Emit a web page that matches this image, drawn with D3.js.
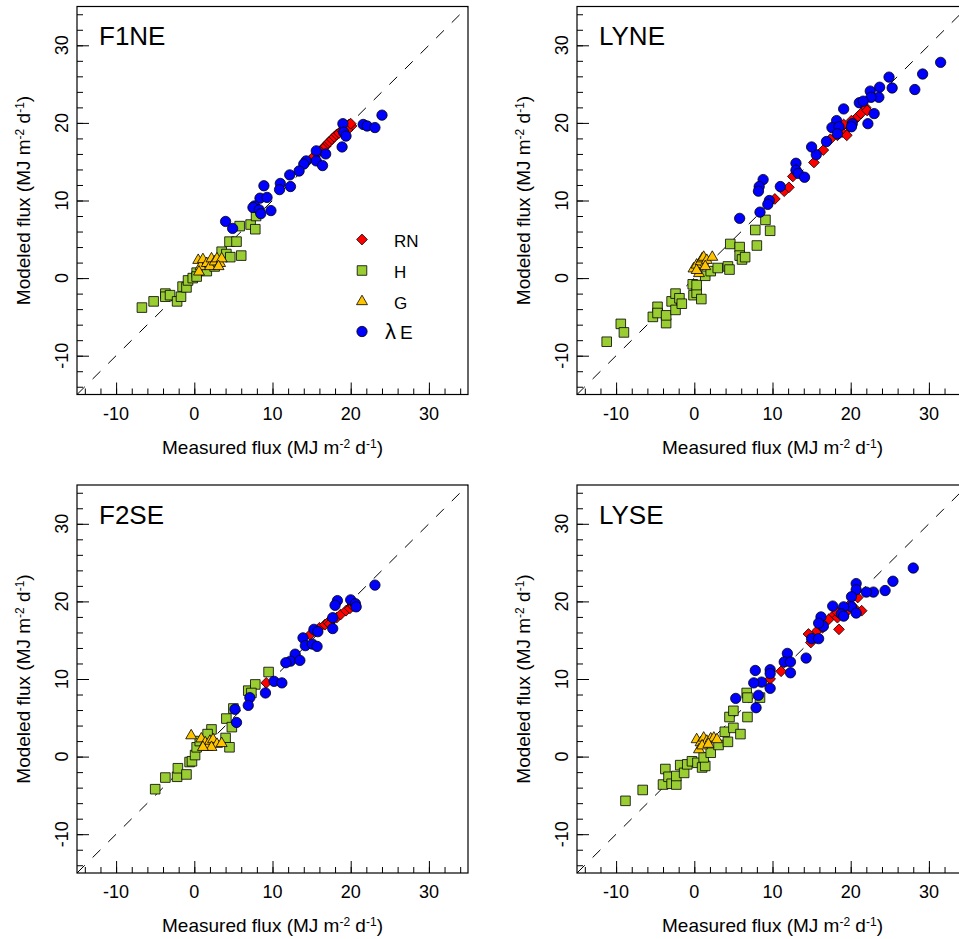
<!DOCTYPE html>
<html>
<head>
<meta charset="utf-8">
<script src="https://cdn.jsdelivr.net/npm/d3@7"></script>
<style>
  body { margin: 0; background: #fff; }
  text { font-family: "Liberation Sans", Arial, sans-serif; fill: #000; }
</style>
</head>
<body>
<script>
// axis limits and tick labels
var domain = [-15, 35];
var majorTicks = [-10, 0, 10, 20, 30];
var minorTicks = d3.range(-14, 35, 2);
var seriesNames = ["RN", "H", "G", "E"];

// F1NE
var f1neRN = [[16.0,16.3],[16.5,16.8],[16.8,17.0],[17.1,17.4],[17.3,17.6],[17.6,17.9],[17.9,18.2],[18.2,18.5],[18.5,18.7],[18.9,19.0],[19.2,19.3],[19.5,19.6],[19.8,19.8],[20.1,19.6],[19.6,19.1],[20.0,19.9],[15.3,15.7]];
var f1neH = [[-6.7,-3.8],[-5.2,-3.0],[-3.7,-2.0],[-3.7,-2.4],[-3.1,-2.2],[-2.2,-3.0],[-1.7,-2.4],[-1.5,-1.1],[-1.0,-1.2],[-0.8,-0.3],[-0.2,0.0],[0.3,0.7],[0.3,0.2],[1.6,0.9],[2.6,1.5],[3.5,3.4],[4.1,3.1],[4.6,2.7],[4.5,4.7],[5.4,4.7],[6.0,2.9],[5.8,6.7],[7.2,6.9],[7.8,6.3],[7.9,8.0]];
var f1neG = [[0.5,2.3],[0.8,1.5],[1.1,2.4],[1.6,1.9],[2.0,1.5],[2.2,2.5],[2.6,2.1],[2.9,2.5],[3.3,1.9],[3.5,2.5],[3.1,1.5],[0.6,0.8]];
var f1neLE = [[24.0,21.0],[21.6,19.8],[22.1,19.6],[23.1,19.4],[19.0,19.9],[19.1,18.8],[19.4,18.3],[18.9,16.9],[16.8,16.0],[15.6,16.4],[15.6,15.1],[16.4,14.5],[14.3,15.1],[14.0,14.7],[13.4,13.8],[12.2,13.3],[11.0,12.2],[10.9,11.4],[12.3,11.8],[8.9,11.9],[8.4,10.3],[9.3,10.4],[7.7,9.3],[7.5,9.1],[8.3,8.8],[8.5,8.3],[9.8,8.7],[4.0,7.3],[4.9,6.4]];

// LYNE
var lyneRN = [[10.3,10.2],[11.5,11.2],[12.1,11.7],[12.6,13.1],[15.3,14.9],[16.5,16.5],[17.4,17.9],[18.3,18.4],[18.9,18.8],[19.5,18.4],[19.8,19.5],[20.4,20.3],[20.9,20.8],[21.3,21.2],[21.9,22.0],[22.1,21.6],[19.1,19.8],[20.1,20.3]];
var lyneH = [[-11.2,-8.2],[-9.4,-5.9],[-9.0,-7.0],[-5.3,-5.0],[-4.7,-3.7],[-4.7,-4.5],[-3.6,-5.8],[-3.6,-4.8],[-2.9,-3.0],[-2.4,-2.0],[-2.4,-4.1],[-1.9,-2.6],[-1.6,-3.3],[-0.2,-0.8],[-0.1,-2.2],[0.3,-1.9],[0.9,-2.7],[0.3,-0.9],[1.4,0.3],[2.1,0.9],[3.0,1.3],[4.3,1.5],[4.5,1.1],[4.6,4.4],[5.8,4.0],[5.8,2.9],[6.1,2.4],[6.5,2.7],[7.8,6.2],[9.1,7.5],[9.7,6.1],[8.0,4.2]];
var lyneG = [[-0.1,1.2],[0.3,1.7],[0.8,2.1],[1.0,2.5],[1.2,2.7],[1.6,2.3],[2.3,2.7],[0.6,0.6],[0.3,1.0],[1.4,1.5]];
var lyneLE = [[31.5,27.8],[29.2,26.3],[28.2,24.3],[24.9,25.9],[25.3,24.5],[23.7,24.6],[23.6,23.3],[22.5,24.1],[22.6,23.3],[21.1,22.6],[21.6,22.8],[23.0,21.2],[22.2,19.9],[19.1,21.8],[18.2,20.3],[17.6,19.4],[18.5,19.5],[18.3,18.6],[20.2,19.9],[20.1,19.5],[16.9,17.6],[15.6,15.9],[15.0,16.9],[13.0,14.8],[13.0,13.9],[13.3,13.5],[14.1,13.0],[11.0,11.8],[8.8,12.7],[8.3,11.8],[8.2,11.2],[9.6,10.0],[9.4,9.5],[8.4,8.5],[5.8,7.7]];

// F2SE
var f2seRN = [[9.2,9.5],[14.8,15.7],[15.4,16.2],[16.0,16.6],[16.7,17.0],[17.1,17.3],[17.7,17.7],[18.2,17.9],[18.7,18.3],[19.4,18.8],[19.9,19.1],[20.3,19.4],[17.3,17.1]];
var f2seH = [[-5.0,-4.2],[-3.7,-2.7],[-2.2,-2.6],[-2.1,-1.5],[-1.0,-2.3],[-0.6,-0.7],[-0.3,-0.6],[0.1,0.2],[0.3,1.2],[0.7,2.0],[2.2,3.5],[1.7,2.9],[4.0,2.4],[4.5,1.2],[4.1,4.9],[4.8,3.8],[5.0,6.2],[6.9,8.5],[7.8,9.3],[7.3,8.2],[9.5,10.9]];
var f2seG = [[-0.4,2.7],[0.9,2.3],[1.4,1.8],[1.7,1.2],[2.0,2.0],[2.4,2.2],[2.9,1.6],[3.5,1.7],[2.2,1.2],[1.1,1.2]];
var f2seLE = [[23.1,22.1],[18.3,20.1],[18.0,19.5],[20.0,20.2],[20.6,19.7],[20.7,19.3],[17.7,17.9],[17.7,16.5],[15.3,16.4],[15.8,16.1],[13.9,15.3],[14.2,14.3],[15.1,14.5],[15.7,14.2],[12.9,13.2],[12.3,12.3],[11.7,12.1],[13.5,12.4],[10.2,9.7],[11.2,9.5],[9.1,8.2],[7.1,7.6],[6.9,6.6],[5.2,6.1],[5.4,4.4]];

// LYSE
var lyseRN = [[9.7,10.0],[11.1,11.0],[14.6,15.8],[14.9,14.7],[15.7,16.2],[16.4,16.6],[17.2,17.7],[17.9,18.3],[18.3,17.9],[18.5,16.4],[19.4,18.6],[19.8,19.5],[20.9,20.5],[21.4,18.8],[20.4,19.2],[18.3,18.6]];
var lyseH = [[-8.8,-5.7],[-6.6,-4.3],[-4.0,-3.6],[-3.7,-1.6],[-3.3,-2.6],[-2.9,-3.5],[-2.3,-3.6],[-2.3,-2.5],[-1.8,-1.1],[-1.3,-2.1],[-0.9,-1.0],[-0.3,-0.6],[0.4,-0.8],[1.0,-1.4],[1.4,-1.2],[1.2,-0.1],[2.1,0.5],[3.1,1.5],[4.3,1.9],[3.9,3.2],[5.0,3.7],[5.9,2.9],[4.5,5.1],[5.0,5.9],[6.8,5.1],[6.7,8.2],[6.8,7.6],[8.4,7.6]];
var lyseG = [[0.3,2.2],[0.8,1.8],[1.2,2.4],[1.6,2.0],[2.1,2.3],[2.5,2.4],[2.9,2.2],[0.6,0.9],[1.0,1.4],[1.8,1.6]];
var lyseLE = [[28.0,24.3],[25.4,22.6],[24.4,21.4],[22.9,21.2],[22.0,21.2],[20.7,22.3],[20.7,21.5],[20.1,20.6],[20.1,19.3],[20.7,18.5],[19.1,19.3],[17.7,19.4],[18.8,18.4],[19.1,18.1],[16.2,18.0],[16.5,16.8],[15.9,17.2],[15.0,15.2],[15.9,15.2],[14.3,12.7],[11.9,13.3],[11.5,12.2],[12.3,12.2],[12.3,10.8],[9.7,11.2],[9.7,10.7],[7.8,11.1],[8.6,9.6],[7.6,9.5],[8.2,7.9],[9.7,8.8],[5.3,7.5],[7.9,6.3]];

var panels = [
  {name: "F1NE", rn: f1neRN, h: f1neH, g: f1neG, le: f1neLE, x: 77, y: 6.5, legend: true},
  {name: "LYNE", rn: lyneRN, h: lyneH, g: lyneG, le: lyneLE, x: 577, y: 6.5},
  {name: "F2SE", rn: f2seRN, h: f2seH, g: f2seG, le: f2seLE, x: 77, y: 485},
  {name: "LYSE", rn: lyseRN, h: lyseH, g: lyseG, le: lyseLE, x: 577, y: 485}
];

var width = 959, height = 939;
var pw = 391, ph = 388;

var svg = d3.select("body").append("svg")
    .attr("width", width)
    .attr("height", height);

var x = d3.scaleLinear().domain(domain).range([0, pw]);
var y = d3.scaleLinear().domain(domain).range([ph, 0]);

var sym = {
  rn: {shape: d3.symbolDiamond2, size: 74, fill: "#ff0000"},
  h:  {shape: d3.symbolSquare, size: 92, fill: "#9acd32"},
  g:  {shape: d3.symbolTriangle, size: 52, fill: "#ffc400"},
  le: {shape: d3.symbolCircle, size: 84, fill: "#0000ff"}
};

panels.forEach(function(p, i) {
  var g = svg.append("g").attr("transform", "translate(" + p.x + "," + p.y + ")");

  g.append("clipPath").attr("id", "clip" + i)
    .append("rect").attr("width", pw).attr("height", ph);

  // minor + major ticks, pointing inward
  g.append("g").attr("transform", "translate(0," + ph + ")")
    .call(d3.axisBottom(x).tickValues(minorTicks).tickSize(-6).tickFormat(""))
    .call(a => a.select(".domain").remove());
  g.append("g").attr("transform", "translate(0," + ph + ")")
    .call(d3.axisBottom(x).tickValues(majorTicks).tickSize(-12).tickFormat(""))
    .call(a => a.select(".domain").remove());
  g.append("g")
    .call(d3.axisLeft(y).tickValues(minorTicks).tickSize(-6).tickFormat(""))
    .call(a => a.select(".domain").remove());
  g.append("g")
    .call(d3.axisLeft(y).tickValues(majorTicks).tickSize(-12).tickFormat(""))
    .call(a => a.select(".domain").remove());

  // tick labels
  g.selectAll(".xl").data(majorTicks).join("text")
    .attr("x", d => x(d)).attr("y", ph + 25)
    .attr("text-anchor", "middle").style("font-size", "18px")
    .text(d => d);
  g.selectAll(".yl").data(majorTicks).join("text")
    .attr("transform", d => "translate(-9," + y(d) + ") rotate(-90)")
    .attr("text-anchor", "middle").style("font-size", "18px")
    .text(d => d);

  // axis titles
  var xt = g.append("text").attr("x", pw / 2).attr("y", ph + 59)
    .attr("text-anchor", "middle").style("font-size", "19px");
  xt.append("tspan").text("Measured flux (MJ m");
  xt.append("tspan").attr("dy", -6).style("font-size", "12px").text("-2");
  xt.append("tspan").attr("dy", 6).text(" d");
  xt.append("tspan").attr("dy", -6).style("font-size", "12px").text("-1");
  xt.append("tspan").attr("dy", 6).text(")");

  var yt = g.append("text").attr("transform", "translate(-47," + (ph / 2) + ") rotate(-90)")
    .attr("text-anchor", "middle").style("font-size", "19px");
  yt.append("tspan").text("Modeled flux (MJ m");
  yt.append("tspan").attr("dy", -6).style("font-size", "12px").text("-2");
  yt.append("tspan").attr("dy", 6).text(" d");
  yt.append("tspan").attr("dy", -6).style("font-size", "12px").text("-1");
  yt.append("tspan").attr("dy", 6).text(")");

  // 1:1 line
  g.append("line")
    .attr("clip-path", "url(#clip" + i + ")")
    .attr("x1", x(domain[0])).attr("y1", y(domain[0]))
    .attr("x2", x(domain[1])).attr("y2", y(domain[1]))
    .attr("stroke", "#000").attr("stroke-width", 1)
    .attr("stroke-dasharray", "11,11");

  // points
  var pts = g.append("g").attr("clip-path", "url(#clip" + i + ")");
  ["rn", "h", "g", "le"].forEach(function(k) {
    pts.append("g").selectAll("path").data(p[k]).join("path")
      .attr("transform", d => "translate(" + x(d[0]) + "," + y(d[1]) + ")")
      .attr("d", d3.symbol().type(sym[k].shape).size(sym[k].size))
      .attr("fill", sym[k].fill)
      .attr("stroke", "#000").attr("stroke-width", 0.8);
  });

  // box
  g.append("rect").attr("width", pw).attr("height", ph)
    .attr("fill", "none").attr("stroke", "#000").attr("stroke-width", 1.2);

  // panel title
  g.append("text").attr("x", 22).attr("y", 38.5)
    .style("font-size", "26px").text(p.name);

  if (p.legend) {
    var lg = g.append("g");
    var ly = [233, 264, 295, 325];
    ["rn", "h", "g", "le"].forEach(function(k, j) {
      lg.append("path")
        .attr("transform", "translate(285," + ly[j] + ")")
        .attr("d", d3.symbol().type(sym[k].shape).size(sym[k].size))
        .attr("fill", sym[k].fill)
        .attr("stroke", "#000").attr("stroke-width", 0.8);
      var t = lg.append("text")
        .attr("x", j == 3 ? 308 : 317).attr("y", ly[j] + 7)
        .style("font-size", "17px");
      if (j == 3) {
        t.append("tspan").style("font-size", "22px").text("λ");
        t.append("tspan").attr("dx", 4).style("font-size", "19px").text(seriesNames[j]);
      } else {
        t.text(seriesNames[j]);
      }
    });
  }
});
</script>
</body>
</html>
